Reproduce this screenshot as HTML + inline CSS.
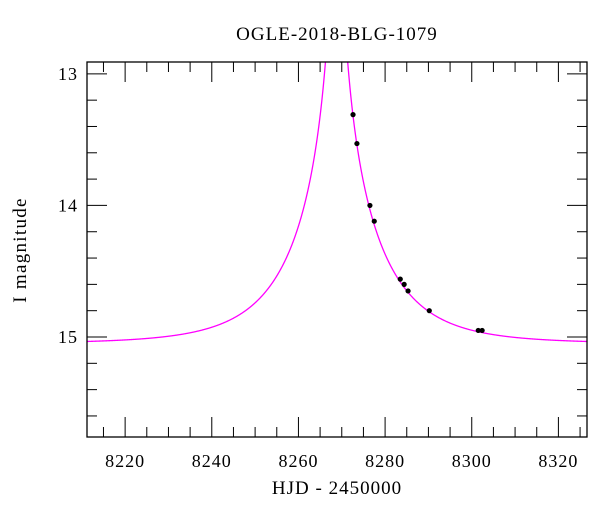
<!DOCTYPE html>
<html><head><meta charset="utf-8"><style>
html,body{margin:0;padding:0;background:#fff;}
svg{display:block;font-family:"Liberation Serif",serif;}
</style></head><body>
<svg id="chart" width="600" height="512" viewBox="0 0 600 512">
<defs><clipPath id="plotclip"><rect x="87" y="62" width="500" height="375"/></clipPath></defs>
<text x="337" y="40" text-anchor="middle" font-size="19" letter-spacing="1">OGLE-2018-BLG-1079</text>
<text x="337" y="494" text-anchor="middle" font-size="19" letter-spacing="1">HJD - 2450000</text>
<text x="0" y="0" transform="translate(26,250) rotate(-90)" text-anchor="middle" font-size="19" letter-spacing="1.3">I magnitude</text>
<g id="axes"></g>
<g id="model" clip-path="url(#plotclip)"></g>
<g id="points"></g>
<rect x="87" y="62" width="500" height="375" fill="none" stroke="#000" stroke-width="1.3"/>
</svg>
<script>
const obsTimes = [8272.6, 8273.5, 8276.5, 8277.5, 8283.5, 8284.4, 8285.3, 8290.2, 8301.5, 8302.4];
const obsMags = [13.31, 13.53, 14.00, 14.12, 14.56, 14.60, 14.65, 14.80, 14.95, 14.95];
const xTickLabels = [8220, 8240, 8260, 8280, 8300, 8320];
const yTickLabels = [13, 14, 15];
const modelT0 = [8268.8];
const modelTE = [18.5];
const modelU0 = [0.02];
const modelBase = [15.05];

const NS = "http://www.w3.org/2000/svg";
const L = 87, R = 587, T = 62, B = 437;
const xMin = 8211.2, xMax = 8326.6, yMin = 12.91, yMax = 15.76;
function xs(v){ return L + (v - xMin) / (xMax - xMin) * (R - L); }
function ys(v){ return T + (v - yMin) / (yMax - yMin) * (B - T); }
function mk(tag, attrs, parent){ const e = document.createElementNS(NS, tag); for (const k in attrs) e.setAttribute(k, attrs[k]); parent.appendChild(e); return e; }

const axes = document.getElementById("axes");
for (let v = 8215; v <= 8325; v += 5) {
  const major = (v % 20 === 0);
  const len = major ? 20 : 10;
  const x = xs(v);
  const t1 = mk("line", {x1:x, x2:x, y1:B, y2:B-len, stroke:"#000", "stroke-width":1}, axes);
  
  
  const t2 = mk("line", {x1:x, x2:x, y1:T, y2:T+len, stroke:"#000", "stroke-width":1}, axes);
  
  
}
xTickLabels.forEach(v => {
  const t = mk("text", {x:xs(v), y:467, "text-anchor":"middle", "font-size":18, "letter-spacing":1}, axes);
  t.textContent = v;
  
  
});
for (let i = 0; i <= 14; i++) {
  const v = 13 + i * 0.2;
  if (v > yMax) break;
  const major = (i % 5 === 0);
  const len = major ? 20 : 10;
  const y = ys(v);
  const t1 = mk("line", {x1:L, x2:L+len, y1:y, y2:y, stroke:"#000", "stroke-width":1}, axes);
  
  
  const t2 = mk("line", {x1:R, x2:R-len, y1:y, y2:y, stroke:"#000", "stroke-width":1}, axes);
  
  
}
yTickLabels.forEach(v => {
  const t = mk("text", {x:78, y:ys(v)+6, "text-anchor":"end", "font-size":18, "letter-spacing":1}, axes);
  t.textContent = v;
  
  
});
function ampl(u){ return (u*u+2)/(u*Math.sqrt(u*u+4)); }
let d = "";
for (let px = L; px <= R; px += 0.25) {
  const t = xMin + (px - L) / (R - L) * (xMax - xMin);
  const tau = (t - modelT0[0]) / modelTE[0];
  const u = Math.sqrt(modelU0[0]*modelU0[0] + tau*tau);
  const m = modelBase[0] - 2.5 * Math.log10(ampl(u));
  const y = Math.max(ys(m), -50);
  d += (d ? "L" : "M") + px.toFixed(2) + "," + y.toFixed(2);
}
const path = mk("path", {d:d, fill:"none", stroke:"#ff00ff", "stroke-width":1.3}, document.getElementById("model"));


const pts = document.getElementById("points");
obsTimes.forEach((t, i) => {
  const c = mk("circle", {cx:xs(t), cy:ys(obsMags[i]), r:2.6, fill:"#000"}, pts);
  
  
});
</script>
</body></html>
